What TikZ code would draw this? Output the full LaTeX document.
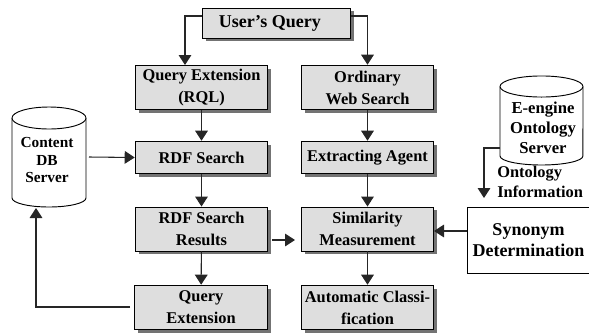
\documentclass[tikz,border=0pt]{standalone}
\usepackage{fontspec}
\setmainfont{Liberation Serif}
\usetikzlibrary{arrows.meta,shadows}
\tikzset{
  stagebox/.style={draw=black, line width=0.7pt, fill=black!13, align=center, inner sep=0pt,
    font=\fontsize{12.3}{16.5}\selectfont\bfseries, minimum width=99.5pt,
    drop shadow={shadow xshift=2.6pt, shadow yshift=-2.6pt, fill=black!55, opacity=1}},
  plainbox/.style={draw=black, line width=0.7pt, fill=white, align=center, inner sep=0pt,
    font=\fontsize{13.5}{16}\selectfont\bfseries, minimum width=92pt, minimum height=49.5pt},
  dbdrum/.style={draw=black, line width=0.7pt, fill=white},
  dblabel/.style={align=center, inner sep=0pt},
  flow/.style={draw=black!85, line width=0.8pt, -{Triangle[length=7.5pt,width=9.5pt]}},
  infolabel/.style={align=left, inner sep=0pt, font=\fontsize{12.3}{15}\selectfont\bfseries}
}
\begin{document}
\begin{tikzpicture}[x=0.75pt,y=-0.75pt]
  \useasboundingbox (0,0) rectangle (589,333);
  % process boxes, left column
  \node[stagebox, minimum width=111.5pt, minimum height=22.5pt, font=\fontsize{13.5}{16.5}\selectfont\bfseries] (query) at (276.5,23) {User's Query\hspace*{10pt}};
  \node[stagebox, minimum height=33.5pt] (extrql) at (201.5,87.5) {Query Extension\\(RQL)};
  \node[stagebox, minimum height=24.5pt] (rdf) at (201.5,157.5) {RDF Search};
  \node[stagebox, minimum height=33pt] (results) at (201.5,229) {RDF Search\\Results};
  \node[stagebox, minimum height=33.5pt] (ext) at (201,307.5) {Query\\Extension};
  % right column
  \node[stagebox, minimum height=33.5pt] (web) at (367.5,87.5) {Ordinary\\Web Search};
  \node[stagebox, minimum height=24.5pt] (agent) at (367.5,157.5) {Extracting Agent};
  \node[stagebox, minimum height=33pt] (sim) at (367.5,229) {Similarity\\Measurement};
  \node[stagebox, minimum height=33.5pt] (auto) at (367.5,307.5) {Automatic Classi-\\fication};
  \node[plainbox] (syn) at (528.5,240) {Synonym\\Determination};
  % databases
  \draw[dbdrum] (12,118) -- (12,198) arc[start angle=180, end angle=360, x radius=27.75pt, y radius=6.75pt] -- (86,118);
  \draw[dbdrum] (49,118) ellipse [x radius=27.75pt, y radius=8.25pt];
  \node[dblabel, font=\fontsize{11.5}{13}\selectfont\bfseries] (contenttext) at (47,160) {Content\\DB\\Server};
  \draw[dbdrum] (500,86.5) -- (500,156) arc[start angle=180, end angle=360, x radius=31.1pt, y radius=6.75pt] -- (583,86.5);
  \draw[dbdrum] (541.5,86.5) ellipse [x radius=31.1pt, y radius=7.9pt];
  \node[dblabel, font=\fontsize{12.5}{15}\selectfont\bfseries] (enginetext) at (543,128) {E-engine\\Ontology\\Server};
  \node[infolabel, anchor=north west] (info) at (497,166) {Ontology\\Information};
  % free ends
  \coordinate (contentout) at (89,157);
  \coordinate (resultsout) at (272,240);
  \coordinate (simin) at (295,240);
  \coordinate (extout) at (130,307);
  \coordinate (contentin) at (36,208);
  \coordinate (engineout) at (500,148);
  \coordinate (infoin) at (484,198);
  \coordinate (queryl) at (202,16);
  \coordinate (queryr) at (351,16);
  \coordinate (extrqlin) at (185,65);
  \coordinate (synout) at (467,231);
  \coordinate (simright) at (434,231);
  % connectors
  \draw[flow] (queryl) -| (extrqlin);
  \draw[flow] (queryr) -| (web.north);
  \draw[flow] (extrql) -- (rdf);
  \draw[flow] (web) -- (agent);
  \draw[flow] (rdf) -- (results);
  \draw[flow] (agent) -- (sim);
  \draw[flow] (results) -- (ext);
  \draw[flow] (sim) -- (auto);
  \draw[flow] (contentout) -- (rdf.west);
  \draw[flow] (resultsout) -- (simin);
  \draw[flow] (extout) -| (contentin);
  \draw[flow] (engineout) -| (infoin);
  \draw[flow] (synout) -- (simright);
\end{tikzpicture}
\end{document}
